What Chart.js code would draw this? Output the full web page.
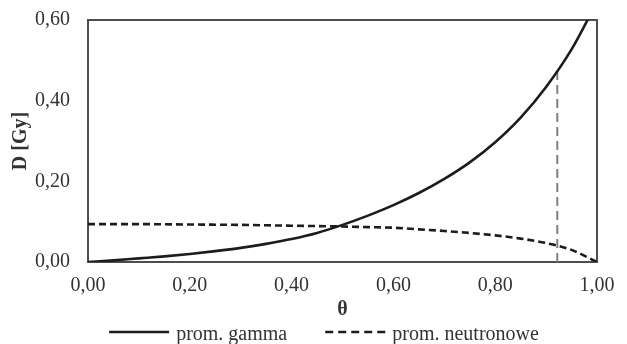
<!DOCTYPE html>
<html>
<head>
<meta charset="utf-8">
<script src="https://cdn.jsdelivr.net/npm/chart.js@4/dist/chart.umd.min.js"></script>
<style>
  html, body { margin: 0; padding: 0; background: #ffffff; }
  canvas { display: block; }
</style>
</head>
<body>
<canvas id="doseChart" width="627" height="344"></canvas>
<script>
// θ grid shared by both series
const thetaValues = [0.00, 0.05, 0.10, 0.15, 0.20, 0.25, 0.30, 0.35, 0.40, 0.45, 0.50,
                     0.55, 0.60, 0.65, 0.70, 0.75, 0.80, 0.85, 0.90, 0.95, 1.00];

// dose from gamma radiation [Gy]
const gammaDose = [0.000, 0.004, 0.009, 0.014, 0.020, 0.027, 0.035, 0.045, 0.057, 0.072, 0.092,
                   0.115, 0.141, 0.171, 0.206, 0.247, 0.297, 0.358, 0.434, 0.527, 0.645];

// dose from neutron radiation [Gy]
const neutronDose = [0.094, 0.094, 0.094, 0.0935, 0.093, 0.0925, 0.092, 0.091, 0.090, 0.089, 0.088,
                     0.0865, 0.085, 0.081, 0.077, 0.072, 0.066, 0.058, 0.047, 0.030, 0.000];

// vertical marker: θ position and the gamma dose it reaches
const markerTheta = 0.922;
const markerDose = 0.473;

const seriesLabels = ['prom. gamma', 'prom. neutronowe'];
const xTicks = [0, 0.2, 0.4, 0.6, 0.8, 1.0];
const yTicks = [0, 0.2, 0.4, 0.6];

const textColor = '#333333';
const serif = 'Liberation Serif, Times New Roman, serif';

const toPoints = (xs, ys) => xs.map((x, i) => ({ x: x, y: ys[i] }));
const commaFmt = v => Number(v).toFixed(2).replace('.', ',');

// frame around the plotting area
const plotFrame = {
  id: 'plotFrame',
  beforeDatasetsDraw(chart) {
    const { ctx, chartArea: a } = chart;
    ctx.save();
    ctx.strokeStyle = '#4d4d4d';
    ctx.lineWidth = 2;
    ctx.strokeRect(a.left, a.top, a.right - a.left, a.bottom - a.top);
    ctx.restore();
  }
};

// series key drawn under the x axis
const seriesKey = {
  id: 'seriesKey',
  afterDraw(chart, args, opts) {
    const ctx = chart.ctx;
    const items = chart.data.datasets.filter(d => !d.hideInKey);
    ctx.save();
    ctx.font = opts.font;
    const widths = items.map(d => opts.sampleWidth + opts.textGap + ctx.measureText(d.label).width);
    const total = widths.reduce((a, b) => a + b, 0) + opts.itemGap * (items.length - 1);
    let x = opts.centerX - total / 2;
    items.forEach((d, i) => {
      ctx.beginPath();
      ctx.setLineDash(d.keyDash || d.borderDash || []);
      ctx.lineWidth = d.borderWidth;
      ctx.strokeStyle = d.borderColor;
      ctx.moveTo(x, opts.lineY);
      ctx.lineTo(x + opts.sampleWidth, opts.lineY);
      ctx.stroke();
      ctx.setLineDash([]);
      ctx.fillStyle = opts.color;
      ctx.textAlign = 'left';
      ctx.textBaseline = 'alphabetic';
      ctx.fillText(d.label, x + opts.sampleWidth + opts.textGap, opts.textY);
      x += widths[i] + opts.itemGap;
    });
    ctx.restore();
  }
};

new Chart(document.getElementById('doseChart'), {
  type: 'line',
  data: {
    datasets: [
      {
        label: seriesLabels[0],
        data: toPoints(thetaValues, gammaDose),
        borderColor: '#1c1c1c',
        borderWidth: 2.6,
        pointRadius: 0,
        cubicInterpolationMode: 'monotone',
        fill: false
      },
      {
        label: seriesLabels[1],
        data: toPoints(thetaValues, neutronDose),
        borderColor: '#1c1c1c',
        borderWidth: 2.6,
        borderDash: [7, 4],
        keyDash: [8, 5],
        pointRadius: 0,
        cubicInterpolationMode: 'monotone',
        fill: false
      },
      {
        label: 'marker',
        hideInKey: true,
        data: [{ x: markerTheta, y: 0 }, { x: markerTheta, y: markerDose }],
        borderColor: '#7f7f7f',
        borderWidth: 2,
        borderDash: [9, 5],
        pointRadius: 0,
        fill: false
      }
    ]
  },
  options: {
    responsive: false,
    animation: false,
    layout: { padding: { left: 5, right: 30, top: 20, bottom: 22 } },
    plugins: {
      legend: { display: false },
      tooltip: { enabled: false },
      seriesKey: {
        font: '20px ' + serif,
        color: textColor,
        centerX: 324,
        lineY: 332,
        textY: 340,
        sampleWidth: 60,
        textGap: 7,
        itemGap: 38
      }
    },
    scales: {
      x: {
        type: 'linear',
        min: 0,
        max: 1,
        afterBuildTicks(scale) { scale.ticks = xTicks.map(v => ({ value: v })); },
        afterFit(scale) { scale.height = 60; },
        // tick marks are hidden; their length only spaces the labels from the frame
        grid: { display: false, drawTicks: true, tickLength: 12 },
        border: { display: false },
        ticks: {
          padding: 0,
          color: textColor,
          font: { family: serif, size: 20 },
          maxRotation: 0,
          callback: commaFmt
        },
        title: {
          display: true,
          text: 'θ',
          color: textColor,
          font: { family: serif, size: 20, weight: 'bold' },
          padding: { top: 0, bottom: 0 }
        }
      },
      y: {
        type: 'linear',
        min: 0,
        max: 0.6,
        afterBuildTicks(scale) { scale.ticks = yTicks.map(v => ({ value: v })); },
        afterFit(scale) { scale.width = 83; },
        grid: { display: false, drawTicks: true, tickLength: 18 },
        border: { display: false },
        ticks: {
          padding: 0,
          color: textColor,
          font: { family: serif, size: 20 },
          callback: commaFmt
        },
        title: {
          display: true,
          text: 'D [Gy]',
          color: textColor,
          font: { family: serif, size: 20, weight: 'bold' },
          padding: { top: 4, bottom: 0 }
        }
      }
    }
  },
  plugins: [plotFrame, seriesKey]
});
</script>
</body>
</html>
